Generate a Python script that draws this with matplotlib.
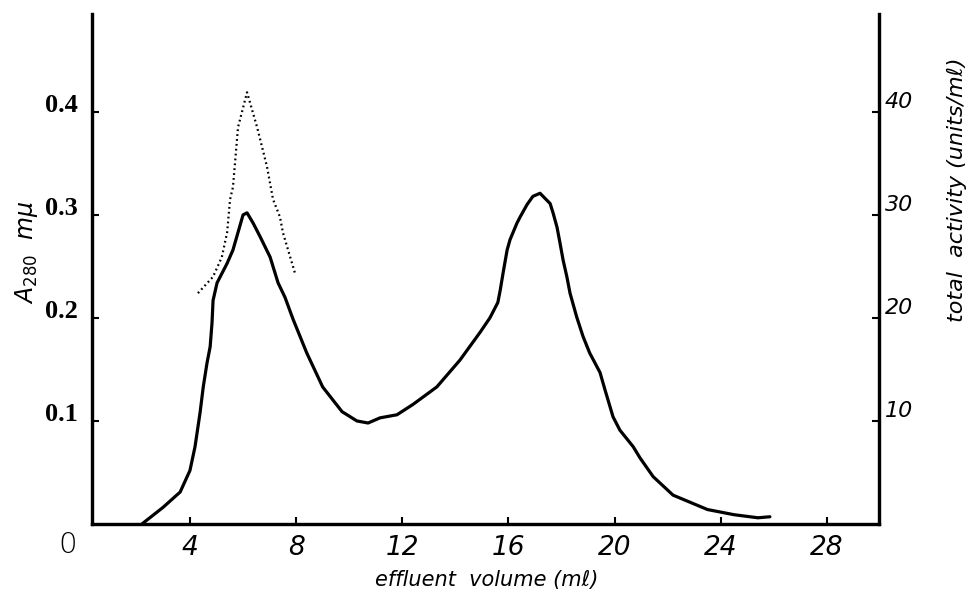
import matplotlib.pyplot as plt

# solid curve: absorbance at 280 mu (left axis)
vol_a = [2.19, 2.98, 3.63, 4.0, 4.19, 4.38, 4.5, 4.64, 4.76, 4.83, 4.87,
         5.02, 5.4, 5.62, 5.81, 6.0, 6.15, 6.38, 6.64, 7.02, 7.32, 7.58,
         7.88, 8.4, 9.0, 9.73, 10.29, 10.71, 11.16, 11.8, 12.4, 13.3, 14.17,
         14.93, 15.3, 15.6, 15.69, 15.8, 15.95, 16.06, 16.32, 16.44, 16.7,
         16.92, 17.19, 17.57, 17.68, 17.83, 17.94, 18.06, 18.2, 18.32, 18.57,
         18.81, 19.06, 19.45, 19.64, 19.94, 20.2, 20.7, 20.96, 21.45, 22.2,
         23.5, 24.5, 25.4, 25.85]
absorb = [0.0, 0.016, 0.031, 0.052, 0.075, 0.108, 0.133, 0.156, 0.172, 0.195,
          0.217, 0.234, 0.253, 0.266, 0.283, 0.3, 0.302, 0.292, 0.279, 0.259,
          0.234, 0.22, 0.199, 0.166, 0.133, 0.109, 0.1, 0.098, 0.103, 0.106,
          0.116, 0.133, 0.159, 0.186, 0.2, 0.215, 0.227, 0.244, 0.266, 0.276,
          0.292, 0.298, 0.31, 0.318, 0.321, 0.311, 0.302, 0.288, 0.273, 0.256,
          0.24, 0.224, 0.201, 0.182, 0.166, 0.147, 0.13, 0.104, 0.091, 0.075,
          0.064, 0.046, 0.028, 0.014, 0.009, 0.006, 0.007]

# dotted curve: total activity (right axis)
vol_t = [4.3, 4.87, 5.2, 5.4, 5.51, 5.62, 5.81, 6.15, 6.53, 6.9, 7.13, 7.39,
         7.5, 7.95]
activity = [22.4, 24.0, 25.9, 28.3, 31.5, 32.7, 38.5, 41.9, 38.5, 34.7, 31.5,
            29.8, 28.3, 24.4]

x_ticks = [4, 8, 12, 16, 20, 24, 28]
a_ticks = [0.1, 0.2, 0.3, 0.4]
t_ticks = [10, 20, 30, 40]

hand = dict(family="DejaVu Sans", style="italic")

fig = plt.figure(figsize=(9.75, 5.93), dpi=100)
ax = fig.add_axes([0.0944, 0.1164, 0.8071, 0.8600])
ax2 = ax.twinx()

ax.plot(vol_a, absorb, color="black", lw=2.3, solid_joinstyle="round",
        solid_capstyle="round")
ax2.plot(vol_t, activity, color="black", lw=1.6, linestyle=(0, (0.8, 1.4)))

ax.set_xlim(0.31, 29.96)
ax.set_ylim(0, 0.495)
ax2.set_ylim(0, 49.5)

for a in (ax, ax2):
    a.spines["top"].set_visible(False)
    for s in ("left", "right", "bottom"):
        a.spines[s].set_linewidth(2.3)

ax.set_xticks(x_ticks)
ax.set_xticklabels([str(v) for v in x_ticks], fontsize=19, **hand)
ax.set_yticks(a_ticks)
ax.set_yticklabels([f"{v:.1f}" for v in a_ticks], fontsize=19,
                   family="Liberation Serif", weight="bold")
ax.tick_params(axis="both", direction="in", length=5, width=1.5)
ax.tick_params(axis="x", pad=8)
ax.tick_params(axis="y", pad=10)

ax2.set_yticks(t_ticks)
ax2.set_yticklabels([str(v) for v in t_ticks], fontsize=16, **hand)
ax2.tick_params(axis="y", direction="in", length=5, width=1.5, pad=4)
for lab in ax2.get_yticklabels():
    lab.set_verticalalignment("bottom")
for lab in ax.get_yticklabels():
    lab.set_verticalalignment("baseline")

fig.text(68 / 975, 1 - 545 / 593, "0", fontsize=21, ha="center", va="center",
         family="DejaVu Sans", weight="light")
fig.text(487 / 975, 1 - 580 / 593, "effluent  volume (mℓ)", fontsize=15,
         ha="center", va="center", **hand)
fig.text(27 / 975, 1 - 252 / 593, "A$_{280}$  mμ", fontsize=17, rotation=90,
         ha="center", va="center", **hand)
fig.text(957 / 975, 1 - 190 / 593, "total  activity (units/mℓ)", fontsize=16,
         rotation=90, ha="center", va="center", **hand)

fig.savefig("out.png", dpi=100, facecolor="white")
